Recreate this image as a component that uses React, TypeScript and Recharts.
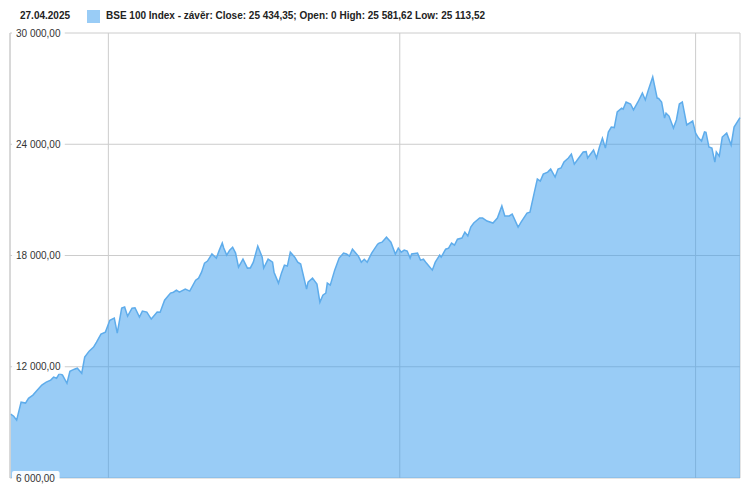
import React from "react";
import { AreaChart, Area, XAxis, YAxis, CartesianGrid } from "recharts";

// time as decimal years
const times = [
  2020.37, 2020.39, 2020.41, 2020.44, 2020.47, 2020.49, 2020.52, 2020.55, 2020.58, 2020.61,
  2020.64, 2020.66, 2020.68, 2020.70, 2020.72, 2020.75, 2020.77, 2020.80, 2020.82, 2020.85,
  2020.87, 2020.90, 2020.93, 2020.95, 2020.98, 2021.01, 2021.04, 2021.07, 2021.09, 2021.12,
  2021.14, 2021.16,
  2021.19, 2021.21, 2021.24, 2021.26, 2021.29, 2021.32, 2021.36, 2021.38, 2021.41, 2021.45,
  2021.47, 2021.49, 2021.51, 2021.55, 2021.58, 2021.62, 2021.64, 2021.66, 2021.68, 2021.70,
  2021.73, 2021.76, 2021.78, 2021.80, 2021.81, 2021.83, 2021.85, 2021.87, 2021.89, 2021.91,
  2021.94, 2021.97,
  2021.99, 2022.01, 2022.04, 2022.07, 2022.08, 2022.11, 2022.14, 2022.15, 2022.18, 2022.20,
  2022.22, 2022.24, 2022.26, 2022.29, 2022.31, 2022.33, 2022.37, 2022.38, 2022.41, 2022.44,
  2022.46, 2022.48, 2022.50, 2022.51, 2022.53, 2022.56, 2022.59, 2022.62, 2022.64, 2022.66,
  2022.68, 2022.72, 2022.74, 2022.76,
  2022.78, 2022.81, 2022.85, 2022.86, 2022.88, 2022.91, 2022.94, 2022.97, 2022.99, 2023.01,
  2023.03, 2023.05, 2023.07, 2023.08, 2023.12, 2023.14, 2023.16, 2023.18, 2023.22, 2023.24,
  2023.27, 2023.28, 2023.31, 2023.33, 2023.35, 2023.37, 2023.39, 2023.42, 2023.44, 2023.46,
  2023.48, 2023.50, 2023.54, 2023.56,
  2023.59, 2023.63, 2023.66, 2023.69, 2023.71, 2023.74, 2023.76, 2023.80, 2023.82, 2023.86,
  2023.88, 2023.91, 2023.93, 2023.95, 2023.97, 2024.00, 2024.02, 2024.05, 2024.07, 2024.09,
  2024.11, 2024.14, 2024.16, 2024.18, 2024.20, 2024.24, 2024.26, 2024.27, 2024.30, 2024.31,
  2024.33, 2024.35, 2024.37, 2024.39, 2024.41, 2024.43,
  2024.45, 2024.47, 2024.50, 2024.51, 2024.53, 2024.56, 2024.58, 2024.61, 2024.64, 2024.66,
  2024.68, 2024.71, 2024.74, 2024.75, 2024.77, 2024.79, 2024.80, 2024.82, 2024.85, 2024.87,
  2024.89, 2024.91, 2024.94, 2024.98, 2025.00, 2025.02, 2025.04, 2025.06, 2025.07, 2025.09,
  2025.11, 2025.13, 2025.14, 2025.16, 2025.18, 2025.21, 2025.24, 2025.26, 2025.30,
];

const closes = [
  9440, 9330, 9120, 10090, 10040, 10300, 10470, 10740, 11010, 11170,
  11280, 11440, 11380, 11650, 11550, 11110, 11760, 11870, 11920, 11650,
  12520, 12840, 13060, 13330, 13760, 13870, 14510, 14620, 13810, 15160,
  15220, 14730,
  15160, 15180, 14680, 15000, 14950, 14570, 14950, 14940, 15590, 15970,
  16020, 16130, 16020, 16190, 16080, 16670, 16780, 17100, 17590, 17700,
  18080, 17860, 18290, 18670, 18400, 18020, 18290, 18450, 18130, 17370,
  17800, 17320,
  17330, 17640, 18510, 17910, 17320, 17800, 17640, 17100, 16510, 17050,
  17480, 17430, 18180, 17910, 17640, 17540, 16190, 16560, 16780, 16460,
  15480, 15860, 15970, 16510, 16400, 17210, 17860, 18130, 18080, 17970,
  18340, 17970, 17640, 17800,
  17640, 18130, 18610, 18670, 18720, 18990, 18720, 18080, 18400, 18180,
  18290, 18240, 17860, 18080, 18130, 17750, 17800, 17590, 17210, 17640,
  18020, 17910, 18340, 18400, 18670, 18560, 18880, 18940, 19260, 19050,
  19530, 19750, 20020, 20020,
  19860, 19750, 20020, 20670, 20130, 20130, 20230, 19530, 19800, 20290,
  20340, 21420, 22120, 22010, 22390, 22500, 22660, 22230, 22660, 22720,
  23040, 23260, 23470, 22930, 23150, 23580, 23600, 23260, 23580, 23690,
  23260, 23850, 24330, 23790, 24660, 24930,
  24900, 25740, 25950, 25900, 26280, 26170, 25850, 26280, 26760, 26390,
  26920, 27630, 26490, 26470, 26280, 25410, 25680, 25520, 24870, 25310,
  26170, 26280, 25040, 25250, 24600, 24330, 24170, 24660, 24640, 23850,
  23790, 23040, 23580, 23360, 24390, 24600, 23960, 24930, 25434.35,
];

const yTicks = [6000, 12000, 18000, 24000, 30000];
const xGridTicks = [2021.03, 2023, 2025];

const headerDate = "27.04.2025";
const seriesLabel =
  "BSE 100 Index - závěr: Close: 25 434,35; Open: 0 High: 25 581,62 Low: 25 113,52";

const data = times.map((t, i) => ({ t, close: closes[i] }));

const fmt = (v: number) =>
  String(Math.round(v)).replace(/\B(?=(\d{3})+(?!\d))/g, " ") + ",00";

const FONT = "'Liberation Sans', Arial, sans-serif";

const renderYTick = (props: any) => {
  const { y, payload } = props;
  const x0 = 10;
  const label = fmt(payload.value);
  const w = label.length * 5.2 + 6;
  return (
    <g key={`yt-${payload.value}`}>
      <rect x={x0 + 2} y={y - 7} width={w} height={14} rx={2} fill="#ffffff" fillOpacity={0.92} />
      <text x={x0 + 6} y={y} dy={3.5} fontSize={10} fill="#333" fontFamily={FONT} textAnchor="start">
        {label}
      </text>
    </g>
  );
};

const renderNoTick = () => <g />;

export default function App() {
  return (
    <div style={{ position: "relative", width: 746, height: 486, background: "#fff" }}>
      <style>{`body{margin:0}`}</style>
      <div
        style={{
          position: "absolute",
          left: 0,
          top: 0,
          height: 30,
          width: 746,
          fontFamily: FONT,
          fontSize: 10,
          fontWeight: "bold",
          color: "#222",
          zIndex: 2,
        }}
      >
        <span style={{ position: "absolute", left: 20, top: 10 }}>{headerDate}</span>
        <span
          style={{
            position: "absolute",
            left: 87,
            top: 10,
            width: 13,
            height: 13,
            background: "#99ccf6",
          }}
        />
        <span style={{ position: "absolute", left: 106, top: 10 }}>{seriesLabel}</span>
      </div>
      <AreaChart
        width={746}
        height={486}
        data={data}
        margin={{ top: 33, right: 6, bottom: 7, left: 9 }}
      >
        <CartesianGrid stroke="#cccccc" strokeWidth={1} vertical horizontal />
        <XAxis
          dataKey="t"
          type="number"
          domain={[2020.365, 2025.3]}
          ticks={xGridTicks}
          interval={0}
          height={1}
          tick={renderNoTick}
          tickLine={false}
          axisLine={false}
        />
        <YAxis
          type="number"
          domain={[6000, 30000]}
          ticks={yTicks}
          interval={0}
          width={1}
          tickLine={false}
          axisLine={{ stroke: "#cccccc" }}
          tick={renderYTick}
          allowDataOverflow
        />
        <Area
          dataKey="close"
          type="linear"
          stroke="#5eaceb"
          strokeWidth={1.5}
          fill="#3399ee"
          fillOpacity={0.5}
          isAnimationActive={false}
          dot={false}
          activeDot={false}
        />
      </AreaChart>
    </div>
  );
}
